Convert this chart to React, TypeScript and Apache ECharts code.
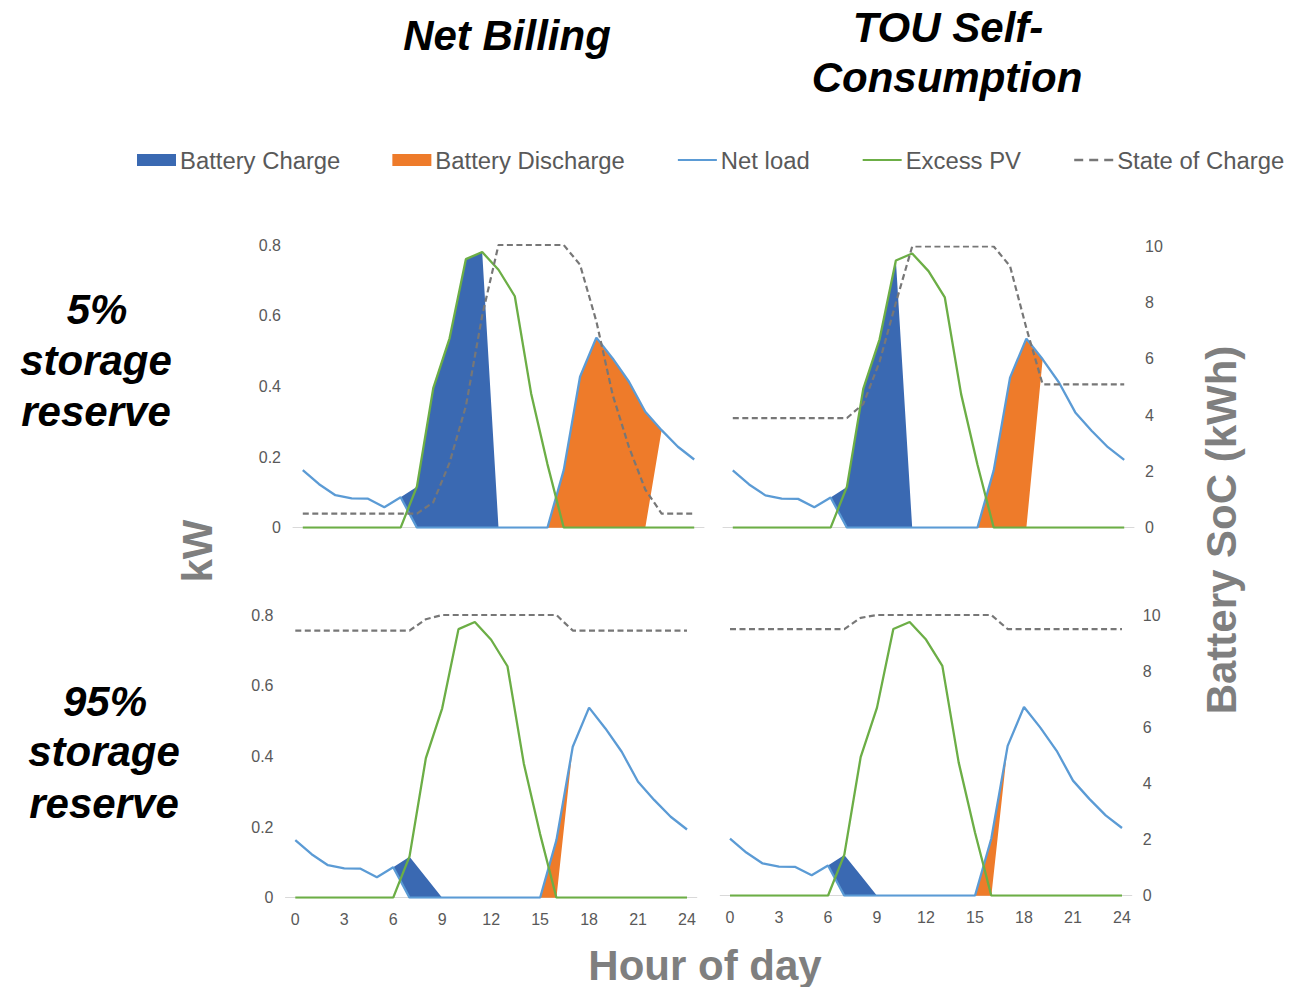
import React, { useEffect, useRef } from 'react';
import * as echarts from 'echarts';

// ---------- data ----------
const hours = [0, 1, 2, 3, 4, 5, 6, 7, 8, 9, 10, 11, 12, 13, 14, 15, 16, 17, 18, 19, 20, 21, 22, 23, 24];
const xTickLabels = [0, 3, 6, 9, 12, 15, 18, 21, 24];

const netLoad = [0.163, 0.123, 0.092, 0.083, 0.082, 0.058, 0.086, 0, 0, 0, 0, 0, 0, 0, 0, 0, 0.163, 0.427, 0.538, 0.479, 0.413, 0.328, 0.276, 0.229, 0.193];
const excessPV = [0, 0, 0, 0, 0, 0, 0, 0.117, 0.395, 0.536, 0.76, 0.78, 0.73, 0.655, 0.38, 0.18, 0, 0, 0, 0, 0, 0, 0, 0, 0];

// Net Billing, 5% reserve
const chargeNB5 = [0, 0, 0, 0, 0, 0, 0, 0.116, 0.395, 0.536, 0.76, 0.78, 0, 0, 0, 0, 0, 0, 0, 0, 0, 0, 0, 0, 0];
const dischargeNB5 = [0, 0, 0, 0, 0, 0, 0, 0, 0, 0, 0, 0, 0, 0, 0, 0, 0.163, 0.427, 0.538, 0.479, 0.413, 0.328, 0, 0, 0];
const socNB5 = [0.5, 0.5, 0.5, 0.5, 0.5, 0.5, 0.5, 0.5, 0.9, 2.3, 4.3, 7.5, 10, 10, 10, 10, 10, 9.3, 7.3, 4.7, 2.85, 1.35, 0.5, 0.5, 0.5];

// TOU Self-Consumption, 5% reserve
const chargeTOU5 = [0, 0, 0, 0, 0, 0, 0, 0.116, 0.395, 0.536, 0.76, 0, 0, 0, 0, 0, 0, 0, 0, 0, 0, 0, 0, 0, 0];
const dischargeTOU5 = [0, 0, 0, 0, 0, 0, 0, 0, 0, 0, 0, 0, 0, 0, 0, 0, 0.163, 0.427, 0.538, 0, 0, 0, 0, 0, 0];
const socTOU5 = [3.9, 3.9, 3.9, 3.9, 3.9, 3.9, 3.9, 3.9, 4.4, 5.9, 8.0, 10, 10, 10, 10, 10, 10, 9.3, 7.1, 5.1, 5.1, 5.1, 5.1, 5.1, 5.1];

// Net Billing, 95% reserve
const chargeNB95 = [0, 0, 0, 0, 0, 0, 0, 0.116, 0.058, 0, 0, 0, 0, 0, 0, 0, 0, 0, 0, 0, 0, 0, 0, 0, 0];
const dischargeNB95 = [0, 0, 0, 0, 0, 0, 0, 0, 0, 0, 0, 0, 0, 0, 0, 0, 0.163, 0, 0, 0, 0, 0, 0, 0, 0];
const socNB95 = [9.45, 9.45, 9.45, 9.45, 9.45, 9.45, 9.45, 9.45, 9.85, 10, 10, 10, 10, 10, 10, 10, 10, 9.45, 9.45, 9.45, 9.45, 9.45, 9.45, 9.45, 9.45];

// TOU Self-Consumption, 95% reserve
const chargeTOU95 = [0, 0, 0, 0, 0, 0, 0, 0.116, 0.058, 0, 0, 0, 0, 0, 0, 0, 0, 0, 0, 0, 0, 0, 0, 0, 0];
const dischargeTOU95 = [0, 0, 0, 0, 0, 0, 0, 0, 0, 0, 0, 0, 0, 0, 0, 0, 0.163, 0, 0, 0, 0, 0, 0, 0, 0];
const socTOU95 = [9.5, 9.5, 9.5, 9.5, 9.5, 9.5, 9.5, 9.5, 9.9, 10, 10, 10, 10, 10, 10, 10, 10, 9.5, 9.5, 9.5, 9.5, 9.5, 9.5, 9.5, 9.5];

// ---------- styles ----------
const BLUE = '#3a69b2';
const ORANGE = '#ee7b2a';
const NETBLUE = '#5b9bd5';
const GREEN = '#6cae46';
const GRAY = '#777777';
const LABEL = '#595959';
const FONT = '"Liberation Sans", Arial, Helvetica, sans-serif';

const panels = [
  { charge: chargeNB5, discharge: dischargeNB5, soc: socNB5, left: 293, top: 245, width: 411, height: 282.7, showX: false, showL: true, showR: false },
  { charge: chargeTOU5, discharge: dischargeTOU5, soc: socTOU5, left: 723, top: 246.5, width: 411, height: 281.2, showX: false, showL: false, showR: true },
  { charge: chargeNB95, discharge: dischargeNB95, soc: socNB95, left: 285.5, top: 615, width: 411.3, height: 282.7, showX: true, showL: true, showR: false },
  { charge: chargeTOU95, discharge: dischargeTOU95, soc: socTOU95, left: 720.2, top: 615, width: 411.6, height: 280.7, showX: true, showL: false, showR: true },
];

const pairs = (vals: number[]) => hours.map((h, i) => [h, vals[i]]);

// filled band between a lower and an upper curve, drawn through the axis scales
function bandSeries(name: string, color: string, lower: number[], upper: number[], i: number) {
  return {
    type: 'custom',
    name,
    xAxisIndex: i,
    yAxisIndex: 2 * i,
    silent: true,
    color,
    itemStyle: { color },
    encode: { x: 0, y: [1, 2] },
    data: hours.map((h, k) => [h, lower[k], upper[k]]),
    renderItem: (params: any, api: any) => {
      if (params.dataIndex !== 0) return null;
      const top = hours.map((h, k) => api.coord([h, upper[k]]));
      const bottom = hours.map((h, k) => api.coord([h, lower[k]])).reverse();
      return {
        type: 'polygon',
        shape: { points: top.concat(bottom) },
        style: { fill: color, stroke: null },
      };
    },
  };
}

function buildOption() {
  const grid: any[] = [];
  const xAxis: any[] = [];
  const yAxis: any[] = [];
  const series: any[] = [];
  panels.forEach((p, i) => {
    grid.push({ left: p.left, top: p.top, width: p.width, height: p.height });
    xAxis.push({
      type: 'value', gridIndex: i, min: -0.6, max: 24.6,
      axisLine: { show: true, lineStyle: { color: '#d9d9d9', width: 1 } },
      axisTick: { show: false }, splitLine: { show: false },
      axisLabel: { show: p.showX, customValues: xTickLabels, color: LABEL, fontSize: 16, fontFamily: FONT, margin: 14 },
    });
    yAxis.push({
      type: 'value', gridIndex: i, position: 'left', min: 0, max: 0.8, interval: 0.2,
      axisLine: { show: false }, axisTick: { show: false }, splitLine: { show: false },
      axisLabel: { show: p.showL, color: LABEL, fontSize: 16, fontFamily: FONT, margin: 12 },
    });
    yAxis.push({
      type: 'value', gridIndex: i, position: 'right', min: 0, max: 10, interval: 2,
      axisLine: { show: false }, axisTick: { show: false }, splitLine: { show: false },
      axisLabel: { show: p.showR, color: LABEL, fontSize: 16, fontFamily: FONT, margin: 11 },
    });
    const chargeTop = netLoad.map((v, k) => v + p.charge[k]);
    const gridImport = netLoad.map((v, k) => v - p.discharge[k]);
    series.push(bandSeries('Battery Charge', BLUE, netLoad, chargeTop, i));
    series.push(bandSeries('Battery Discharge', ORANGE, gridImport, netLoad, i));
    const common = { xAxisIndex: i, yAxisIndex: 2 * i, symbol: 'none', showSymbol: false, silent: true };
    series.push({
      ...common, type: 'line', name: 'Net load', color: NETBLUE,
      data: pairs(netLoad), lineStyle: { color: NETBLUE, width: 2.3 },
    });
    series.push({
      ...common, type: 'line', name: 'Excess PV', color: GREEN,
      data: pairs(excessPV), lineStyle: { color: GREEN, width: 2.3 },
    });
    series.push({
      ...common, yAxisIndex: 2 * i + 1, type: 'line', name: 'State of Charge', color: GRAY,
      data: pairs(p.soc), lineStyle: { color: GRAY, width: 2.2, type: [6, 3.5] },
    });
  });

  const boldItalic = (text: string, x: number, y: number) => ({
    type: 'text', x, y, silent: true,
    style: { text, fill: '#000', font: `italic bold 42px ${FONT}`, textAlign: 'center', textVerticalAlign: 'middle' },
  });
  const axisTitle = (text: string, x: number, y: number, rot: number) => ({
    type: 'text', x, y, rotation: rot, silent: true,
    style: { text, fill: '#7f7f7f', font: `bold 42px ${FONT}`, textAlign: 'center', textVerticalAlign: 'middle' },
  });

  return {
    animation: false,
    backgroundColor: '#ffffff',
    grid, xAxis, yAxis, series,
    legend: {
      left: 132, top: 143, padding: 5,
      itemWidth: 39, itemHeight: 12, itemGap: 52,
      selectedMode: false,
      textStyle: { fontSize: 23.85, color: LABEL, fontFamily: FONT, padding: [0, 0, 0, -1] },
      data: [
        { name: 'Battery Charge', icon: 'rect', itemStyle: { color: BLUE } },
        { name: 'Battery Discharge', icon: 'rect', itemStyle: { color: ORANGE } },
        { name: 'Net load', itemStyle: { opacity: 0 } },
        { name: 'Excess PV', itemStyle: { opacity: 0 } },
        { name: 'State of Charge', itemStyle: { opacity: 0 }, lineStyle: { type: [9, 6], width: 2.5 } },
      ],
    },
    graphic: [
      boldItalic('Net Billing', 507, 35),
      boldItalic('TOU Self-', 948, 27),
      boldItalic('Consumption', 947, 77),
      boldItalic('5%', 97, 309),
      boldItalic('storage', 96, 360),
      boldItalic('reserve', 96, 411),
      boldItalic('95%', 105, 701),
      boldItalic('storage', 104, 751),
      boldItalic('reserve', 104, 803),
      axisTitle('kW', 197, 551, Math.PI / 2),
      axisTitle('Battery SoC (kWh)', 1221, 530, Math.PI / 2),
      axisTitle('Hour of day', 705, 965, 0),
    ],
  };
}

export default function App() {
  const ref = useRef<HTMLDivElement>(null);
  useEffect(() => {
    if (!ref.current) return;
    const chart = echarts.init(ref.current, undefined, { renderer: 'svg' });
    chart.setOption(buildOption() as any);
    return () => chart.dispose();
  }, []);
  return (
    <div
      ref={ref}
      style={{ position: 'fixed', left: 0, top: 0, width: 1304, height: 987, background: '#fff' }}
    />
  );
}
